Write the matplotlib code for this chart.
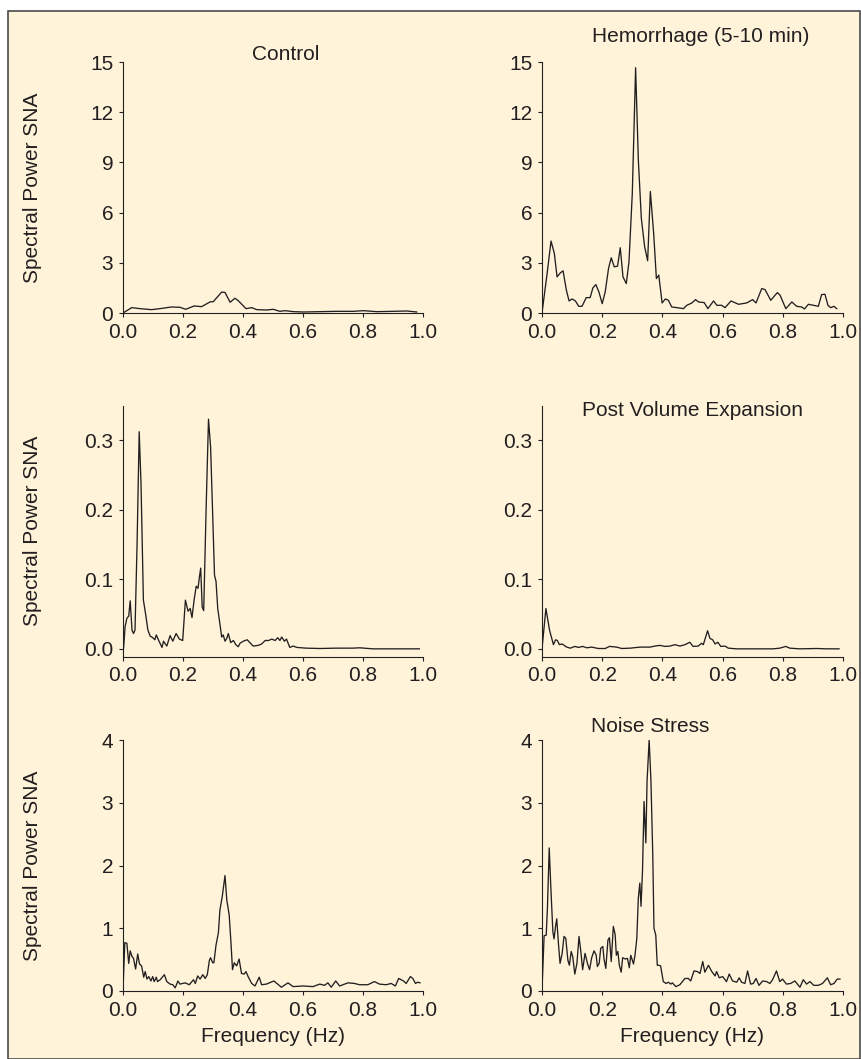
import numpy as np
import matplotlib
matplotlib.use("Agg")
import matplotlib.pyplot as plt
from matplotlib.patches import Rectangle

plt.rcParams['font.family'] = ['Liberation Sans', 'DejaVu Sans']

INK = '#231f20'
BG = '#fff4da'

# Control
ctrl_f = [0.0, 0.029, 0.057, 0.095, 0.123, 0.162, 0.19, 0.209, 0.237, 0.262, 0.29, 0.301,
          0.329, 0.34, 0.357, 0.373, 0.384, 0.41, 0.429, 0.446, 0.479, 0.501, 0.523, 0.54,
          0.568, 0.601, 0.657, 0.712, 0.768, 0.801, 0.846, 0.9, 0.946, 0.979]
ctrl_p = [0.0, 0.32, 0.26, 0.2, 0.26, 0.36, 0.34, 0.22, 0.42, 0.38, 0.66, 0.68,
          1.25, 1.23, 0.64, 0.88, 0.74, 0.26, 0.32, 0.2, 0.18, 0.22, 0.1, 0.14,
          0.08, 0.06, 0.08, 0.1, 0.1, 0.14, 0.08, 0.1, 0.12, 0.06]

# Hemorrhage (5-10 min)
hem_f = [0.0, 0.017, 0.03, 0.041, 0.05, 0.061, 0.07, 0.081, 0.09, 0.1, 0.111, 0.122, 0.133,
         0.147, 0.16, 0.169, 0.179, 0.189, 0.2, 0.21, 0.221, 0.23, 0.24, 0.251, 0.26, 0.269,
         0.28, 0.289, 0.3, 0.311, 0.32, 0.33, 0.341, 0.351, 0.36, 0.371, 0.38, 0.388, 0.399,
         0.41, 0.42, 0.431, 0.448, 0.47, 0.481, 0.498, 0.51, 0.52, 0.539, 0.551, 0.57, 0.581,
         0.597, 0.608, 0.628, 0.653, 0.68, 0.7, 0.711, 0.73, 0.741, 0.76, 0.782, 0.791, 0.81,
         0.83, 0.846, 0.863, 0.872, 0.885, 0.902, 0.918, 0.929, 0.94, 0.95, 0.959, 0.97, 0.979]
hem_p = [0.0, 2.36, 4.3, 3.56, 2.16, 2.4, 2.52, 1.36, 0.72, 0.84, 0.72, 0.4, 0.4,
         0.92, 0.92, 1.5, 1.7, 1.26, 0.56, 1.26, 2.66, 3.3, 2.76, 2.8, 3.9, 2.16,
         1.76, 3.06, 7.16, 14.66, 9.16, 5.66, 3.96, 3.12, 7.26, 4.76, 2.06, 2.26, 0.6,
         0.84, 0.76, 0.36, 0.32, 0.26, 0.46, 0.6, 0.8, 0.66, 0.62, 0.26, 0.72, 0.46,
         0.46, 0.32, 0.72, 0.52, 0.6, 0.8, 0.6, 1.46, 1.4, 0.76, 1.22, 1.06, 0.26,
         0.66, 0.4, 0.36, 0.24, 0.52, 0.46, 0.4, 1.1, 1.12, 0.46, 0.32, 0.4, 0.26]

# middle left (no title)
mid_f = [0.002, 0.007, 0.013, 0.019, 0.024, 0.03, 0.035, 0.04, 0.047, 0.054, 0.06, 0.068,
         0.075, 0.083, 0.091, 0.096, 0.102, 0.106, 0.111, 0.118, 0.13, 0.135, 0.146, 0.157,
         0.166, 0.177, 0.188, 0.199, 0.208, 0.217, 0.224, 0.23, 0.237, 0.244, 0.25, 0.255,
         0.259, 0.264, 0.269, 0.277, 0.285, 0.292, 0.299, 0.305, 0.31, 0.316, 0.321, 0.329,
         0.334, 0.34, 0.346, 0.351, 0.359, 0.368, 0.376, 0.384, 0.39, 0.401, 0.414, 0.425,
         0.434, 0.451, 0.462, 0.474, 0.485, 0.496, 0.507, 0.516, 0.523, 0.529, 0.538, 0.545,
         0.556, 0.567, 0.58, 0.611, 0.656, 0.711, 0.766, 0.789, 0.833, 0.988]
mid_p = [0.001, 0.032, 0.044, 0.047, 0.069, 0.027, 0.022, 0.027, 0.152, 0.312, 0.238, 0.07,
         0.051, 0.027, 0.018, 0.017, 0.015, 0.013, 0.02, 0.013, 0.002, 0.011, 0.004, 0.019,
         0.011, 0.022, 0.014, 0.012, 0.07, 0.054, 0.058, 0.045, 0.07, 0.09, 0.087, 0.104,
         0.116, 0.06, 0.055, 0.2, 0.33, 0.29, 0.192, 0.106, 0.097, 0.057, 0.042, 0.017,
         0.02, 0.011, 0.015, 0.022, 0.009, 0.012, 0.006, 0.003, 0.008, 0.011, 0.013, 0.008,
         0.004, 0.005, 0.007, 0.012, 0.012, 0.014, 0.012, 0.016, 0.012, 0.017, 0.011, 0.014,
         0.002, 0.004, 0.002, 0.001, 0.0005, 0.001, 0.001, 0.0015, 0.0, 0.0]

# Post Volume Expansion
pve_f = [0.0, 0.013, 0.025, 0.038, 0.045, 0.051, 0.058, 0.067, 0.082, 0.094, 0.11, 0.121,
         0.135, 0.149, 0.165, 0.187, 0.21, 0.224, 0.248, 0.265, 0.293, 0.326, 0.359, 0.375,
         0.392, 0.408, 0.425, 0.442, 0.458, 0.475, 0.491, 0.502, 0.519, 0.53, 0.536, 0.55,
         0.558, 0.567, 0.575, 0.584, 0.594, 0.608, 0.619, 0.647, 0.68, 0.724, 0.768, 0.79,
         0.81, 0.823, 0.857, 0.912, 0.945, 0.987]
pve_p = [0.0, 0.058, 0.027, 0.006, 0.013, 0.012, 0.006, 0.007, 0.0025, 0.001, 0.0035, 0.002,
         0.0035, 0.0015, 0.0025, 0.0005, 0.0005, 0.0035, 0.0025, 0.0005, 0.001, 0.0025, 0.0025, 0.004,
         0.005, 0.0035, 0.004, 0.006, 0.004, 0.006, 0.0095, 0.0035, 0.004, 0.008, 0.006, 0.026,
         0.015, 0.013, 0.007, 0.0095, 0.0035, 0.004, 0.001, 0.0, 0.0, 0.0, 0.0, 0.001,
         0.0035, 0.001, 0.0, 0.0005, 0.0, 0.0]

# bottom left (no title)
bot_f = [0.0, 0.006, 0.013, 0.019, 0.024, 0.03, 0.035, 0.042, 0.049, 0.055, 0.062, 0.069,
         0.074, 0.08, 0.086, 0.093, 0.099, 0.104, 0.111, 0.115, 0.124, 0.138, 0.146, 0.157,
         0.166, 0.174, 0.183, 0.19, 0.207, 0.221, 0.235, 0.241, 0.249, 0.257, 0.266, 0.274,
         0.281, 0.288, 0.292, 0.299, 0.303, 0.31, 0.318, 0.323, 0.331, 0.34, 0.346, 0.354,
         0.36, 0.365, 0.371, 0.379, 0.387, 0.395, 0.404, 0.41, 0.417, 0.429, 0.44, 0.454,
         0.462, 0.478, 0.503, 0.528, 0.55, 0.567, 0.6, 0.633, 0.656, 0.672, 0.683, 0.694,
         0.709, 0.722, 0.75, 0.772, 0.788, 0.816, 0.838, 0.855, 0.877, 0.894, 0.908, 0.919,
         0.935, 0.944, 0.958, 0.966, 0.975, 0.982, 0.99]
bot_p = [0.016, 0.77, 0.76, 0.44, 0.64, 0.55, 0.52, 0.35, 0.59, 0.43, 0.4, 0.22,
         0.31, 0.19, 0.23, 0.16, 0.23, 0.15, 0.22, 0.15, 0.18, 0.26, 0.15, 0.11,
         0.1, 0.05, 0.16, 0.11, 0.13, 0.1, 0.18, 0.12, 0.24, 0.19, 0.26, 0.2,
         0.26, 0.49, 0.53, 0.45, 0.45, 0.73, 0.93, 1.29, 1.51, 1.84, 1.45, 1.21,
         0.76, 0.34, 0.45, 0.4, 0.51, 0.28, 0.27, 0.31, 0.23, 0.12, 0.08, 0.22,
         0.1, 0.11, 0.16, 0.06, 0.13, 0.07, 0.08, 0.07, 0.11, 0.09, 0.13, 0.06,
         0.16, 0.08, 0.13, 0.12, 0.1, 0.1, 0.15, 0.11, 0.1, 0.12, 0.08, 0.2,
         0.16, 0.12, 0.23, 0.2, 0.12, 0.14, 0.13]

# Noise Stress
ns_f = [0.0, 0.007, 0.014, 0.018, 0.024, 0.029, 0.036, 0.04, 0.045, 0.049, 0.055, 0.06,
        0.067, 0.073, 0.079, 0.086, 0.091, 0.097, 0.102, 0.109, 0.116, 0.123, 0.129, 0.135,
        0.143, 0.151, 0.158, 0.165, 0.173, 0.18, 0.184, 0.19, 0.195, 0.202, 0.206, 0.212,
        0.219, 0.224, 0.23, 0.237, 0.243, 0.247, 0.252, 0.257, 0.263, 0.268, 0.277, 0.284,
        0.29, 0.295, 0.304, 0.309, 0.315, 0.32, 0.325, 0.329, 0.334, 0.339, 0.345, 0.349,
        0.356, 0.362, 0.368, 0.372, 0.378, 0.383, 0.388, 0.394, 0.403, 0.412, 0.42, 0.428,
        0.433, 0.445, 0.458, 0.475, 0.486, 0.494, 0.505, 0.516, 0.525, 0.534, 0.541, 0.553,
        0.564, 0.575, 0.58, 0.589, 0.6, 0.613, 0.622, 0.633, 0.647, 0.655, 0.663, 0.674,
        0.683, 0.693, 0.702, 0.711, 0.721, 0.733, 0.746, 0.757, 0.766, 0.779, 0.79, 0.799,
        0.812, 0.826, 0.84, 0.857, 0.868, 0.879, 0.89, 0.903, 0.918, 0.932, 0.948, 0.959,
        0.97, 0.981, 0.99]
ns_p = [0.02, 0.88, 0.89, 1.32, 2.28, 1.69, 0.95, 0.83, 1.03, 1.15, 0.73, 0.44,
        0.6, 0.87, 0.84, 0.49, 0.41, 0.63, 0.55, 0.27, 0.44, 0.87, 0.63, 0.34,
        0.6, 0.44, 0.34, 0.53, 0.64, 0.57, 0.39, 0.44, 0.68, 0.71, 0.51, 0.36,
        0.81, 0.85, 0.47, 1.03, 0.9, 0.57, 0.63, 0.41, 0.3, 0.53, 0.51, 0.52,
        0.37, 0.57, 0.43, 0.57, 0.84, 1.48, 1.72, 1.35, 1.93, 3.02, 2.36, 3.34,
        4.0, 3.34, 2.17, 1.0, 0.89, 0.41, 0.41, 0.4, 0.15, 0.12, 0.14, 0.11,
        0.13, 0.07, 0.1, 0.2, 0.2, 0.16, 0.32, 0.31, 0.28, 0.47, 0.3, 0.41,
        0.31, 0.24, 0.31, 0.21, 0.23, 0.15, 0.27, 0.16, 0.14, 0.21, 0.14, 0.12,
        0.32, 0.11, 0.12, 0.2, 0.09, 0.16, 0.15, 0.12, 0.18, 0.32, 0.15, 0.19,
        0.11, 0.12, 0.16, 0.06, 0.18, 0.11, 0.15, 0.09, 0.09, 0.12, 0.21, 0.1,
        0.12, 0.19, 0.19]

x_ticks = [0.0, 0.2, 0.4, 0.6, 0.8, 1.0]
row_yticks = [[0, 3, 6, 9, 12, 15], [0.0, 0.1, 0.2, 0.3], [0, 1, 2, 3, 4]]
row_ylims = [(0, 15), (-0.011, 0.349), (0, 4)]
row_fmt = ['%d', '%.1f', '%d']

W, H = 862, 1059
fig = plt.figure(figsize=(W / 100, H / 100), dpi=100, facecolor='white')
fig.patches.append(Rectangle((8.5 / W, 0.0), (860 - 8.5) / W, 1 - 10.5 / H,
                             transform=fig.transFigure, facecolor=BG,
                             edgecolor='#4a4a4a', linewidth=1.2, zorder=-1))

def px_box(left, top, right, bottom):
    return [left / W, 1 - bottom / H, (right - left) / W, (bottom - top) / H]

lefts = [(123, 423), (542, 843)]
rows = [(62, 313), (406, 656.5), (740, 991)]
series = [[(ctrl_f, ctrl_p), (hem_f, hem_p)],
          [(mid_f, mid_p), (pve_f, pve_p)],
          [(bot_f, bot_p), (ns_f, ns_p)]]

for r, (top, bottom) in enumerate(rows):
    for c, (left, right) in enumerate(lefts):
        ax = fig.add_axes(px_box(left, top, right, bottom))
        ax.patch.set_alpha(0)
        f, p = series[r][c]
        ax.plot(f, p, color=INK, lw=0.95)
        ax.set_xlim(0, 1.0)
        ax.set_ylim(*row_ylims[r])
        ax.set_xticks(x_ticks)
        ax.set_xticklabels(['%.1f' % v for v in x_ticks])
        ax.set_yticks(row_yticks[r])
        ax.set_yticklabels([row_fmt[r] % v for v in row_yticks[r]])
        for s in ['top', 'right']:
            ax.spines[s].set_visible(False)
        for s in ['left', 'bottom']:
            ax.spines[s].set_color(INK)
            ax.spines[s].set_linewidth(0.8)
        ax.tick_params(direction='out', length=3, width=0.8, color=INK,
                       labelcolor=INK, labelsize=15, pad=4)
        if r == 2:
            ax.set_xlabel('Frequency (Hz)', fontsize=15, color=INK, labelpad=5)
    fig.text(33 / W, 1 - (top + bottom) / 2 / H, 'Spectral Power SNA', rotation=90,
             ha='center', va='center', fontsize=15, color=INK)

titles = [('Control', 286, 54), ('Hemorrhage (5-10 min)', 701, 36),
          ('Post Volume Expansion', 693, 410), ('Noise Stress', 650, 727)]
for t, x, y in titles:
    fig.text(x / W, 1 - y / H, t, ha='center', va='center', fontsize=15, color=INK)

fig.savefig('out.png', dpi=100, facecolor=fig.get_facecolor())
